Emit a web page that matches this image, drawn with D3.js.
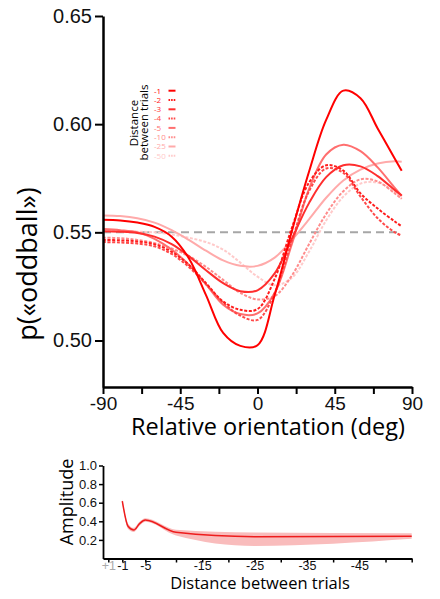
<!DOCTYPE html>
<html>
<head>
<meta charset="utf-8">
<script src="https://cdn.jsdelivr.net/npm/d3@7"></script>
<style>
    body { margin: 0; background: #fff; }
    svg { display: block; font-family: "Open Sans", sans-serif; }
    .axis path, .axis line { stroke: #000; }
</style>
</head>
<body>
<svg id="chart" width="440" height="599"></svg>
<script>
// orientations (deg) shared by every curve of the top panel
var orientations = [-90, -80, -70, -60, -50, -40, -30, -20, -10, 0, 10, 20, 30, 40, 50, 60, 70, 80, 84];

// p(oddball) per distance between trials
var lags = ["-1", "-2", "-3", "-4", "-5", "-10", "-25", "-50"];
var pOdd1  = [0.5558, 0.5555, 0.5545, 0.5525, 0.548, 0.538, 0.521, 0.5035, 0.4975, 0.4978, 0.521, 0.5505, 0.578, 0.602, 0.6155, 0.612, 0.598, 0.584, 0.5785];
var pOdd2  = [0.5465, 0.5463, 0.5458, 0.5445, 0.541, 0.535, 0.5265, 0.518, 0.5142, 0.5145, 0.5285, 0.552, 0.573, 0.581, 0.5785, 0.568, 0.561, 0.555, 0.5528];
var pOdd3  = [0.5505, 0.5503, 0.5497, 0.548, 0.5445, 0.539, 0.5325, 0.5265, 0.5228, 0.5232, 0.531, 0.547, 0.5635, 0.5755, 0.581, 0.5805, 0.576, 0.5695, 0.567];
var pOdd4  = [0.5455, 0.5453, 0.5448, 0.5435, 0.540, 0.534, 0.526, 0.5175, 0.5115, 0.5095, 0.522, 0.546, 0.569, 0.5795, 0.5775, 0.5665, 0.5565, 0.550, 0.5485];
var pOdd5  = [0.5515, 0.551, 0.550, 0.547, 0.542, 0.535, 0.526, 0.5165, 0.5122, 0.5125, 0.522, 0.5445, 0.570, 0.586, 0.5905, 0.5875, 0.580, 0.5705, 0.5668];
var pOdd10 = [0.5475, 0.5473, 0.5465, 0.545, 0.5425, 0.539, 0.534, 0.528, 0.522, 0.519, 0.5205, 0.530, 0.5445, 0.5585, 0.569, 0.5745, 0.5735, 0.568, 0.5655];
var pOdd25 = [0.5578, 0.5575, 0.5565, 0.5545, 0.551, 0.5465, 0.5415, 0.537, 0.5345, 0.5345, 0.5383, 0.5465, 0.556, 0.566, 0.574, 0.579, 0.5818, 0.5828, 0.5826];
var pOdd50 = [0.5505, 0.5505, 0.5503, 0.550, 0.549, 0.5475, 0.5455, 0.542, 0.536, 0.5295, 0.5255, 0.529, 0.541, 0.5555, 0.5665, 0.5725, 0.573, 0.5685, 0.5655];
var chance = 0.55;

// bottom panel: amplitude vs distance between trials
var distances = [-1, -2, -3, -4, -5, -10, -25, -55];
var amplitude = [0.618, 0.346, 0.306, 0.375, 0.413, 0.282, 0.235, 0.239];
var ampUpper  = [0.638, 0.375, 0.33, 0.395, 0.432, 0.31, 0.28, 0.272];
var ampLower  = [0.598, 0.318, 0.285, 0.352, 0.395, 0.248, 0.135, 0.212];

var yTicks = [0.50, 0.55, 0.60, 0.65];
var xTicks = [-90, -67.5, -45, -22.5, 0, 22.5, 45, 67.5, 90];
var ampTicks = [0.2, 0.4, 0.6, 0.8, 1.0];
var distTicks = [1, -1, -5, -10, -15, -20, -25, -30, -35, -40, -45, -50, -55];
var distLabels = {"1": "+1", "-1": "-1", "-5": "-5", "-15": "-15", "-25": "-25", "-35": "-35", "-45": "-45"};

var series = [pOdd1, pOdd2, pOdd3, pOdd4, pOdd5, pOdd10, pOdd25, pOdd50];
var colors = ["#ff0000", "#ff1c1c", "#ff2e2e", "#ff4848", "#ff6f6f", "#ff8c8c", "#ffaaaa", "#ffcaca"];
var dashed = [false, true, false, true, false, true, false, true];

var svg = d3.select("#chart");

// ---------- top panel ----------
var x = d3.scaleLinear().domain([-90, 90]).range([103, 412]);
var y = d3.scaleLinear().domain([0.4785, 0.65]).range([387, 16]);

var gTop = svg.append("g").attr("class", "g-top");

gTop.append("line")
    .attr("x1", x(-90)).attr("x2", x(84))
    .attr("y1", y(chance)).attr("y2", y(chance))
    .attr("stroke", "#a6a6a6")
    .attr("stroke-width", 2)
    .attr("stroke-dasharray", "8,5");

var line = d3.line()
    .x(function (d, i) { return x(orientations[i]); })
    .y(function (d) { return y(d); })
    .curve(d3.curveCatmullRom.alpha(0.5));

// draw the faint ones first so -1 stays on top
for (var i = series.length - 1; i >= 0; i--) {
    gTop.append("path")
        .datum(series[i])
        .attr("d", line)
        .attr("fill", "none")
        .attr("stroke", colors[i])
        .attr("stroke-width", 2)
        .attr("stroke-dasharray", dashed[i] ? "3,1.6" : null);
}

var xAxis = gTop.append("g")
    .attr("class", "axis")
    .attr("transform", "translate(0,387)")
    .call(d3.axisBottom(x).tickValues(xTicks).tickSize(7).tickSizeOuter(0)
        .tickFormat(function (d) { return d % 45 === 0 ? d : ""; }));
xAxis.select(".domain").attr("stroke-width", 2.5);
xAxis.selectAll(".tick line").attr("stroke-width", 2);
xAxis.selectAll("text").attr("font-size", "19px").attr("dy", "0.71em").attr("fill", "#111");

var yAxis = gTop.append("g")
    .attr("class", "axis")
    .attr("transform", "translate(103,0)")
    .call(d3.axisLeft(y).tickValues(yTicks).tickSize(8).tickSizeOuter(0).tickFormat(d3.format(".2f")));
yAxis.select(".domain").attr("stroke-width", 2.5);
yAxis.selectAll(".tick line").attr("stroke-width", 2);
yAxis.selectAll("text").attr("font-size", "20px").attr("x", -11).attr("fill", "#111");

gTop.append("text")
    .attr("transform", "translate(268,435)")
    .attr("text-anchor", "middle")
    .attr("font-size", "23.5px")
    .text("Relative orientation (deg)");

gTop.append("text")
    .attr("transform", "translate(37,264) rotate(-90)")
    .attr("text-anchor", "middle")
    .attr("font-size", "27px")
    .text("p(«oddball»)");

// legend
var gLegend = gTop.append("g").attr("class", "g-legend");
gLegend.append("text")
    .attr("transform", "translate(138,123) rotate(-90)")
    .attr("text-anchor", "middle")
    .attr("font-size", "11.5px")
    .text("Distance");
gLegend.append("text")
    .attr("transform", "translate(148,122.5) rotate(-90)")
    .attr("text-anchor", "middle")
    .attr("font-size", "11.5px")
    .text("between trials");

var legendRow = gLegend.selectAll("g.row")
    .data(lags)
    .enter().append("g")
    .attr("class", "row")
    .attr("transform", function (d, i) { return "translate(0," + (90.7 + i * 9.3) + ")"; });
legendRow.append("text")
    .attr("x", 154)
    .attr("y", 2.8)
    .attr("font-size", "8px")
    .attr("fill", function (d, i) { return colors[i]; })
    .text(function (d) { return d; });
legendRow.append("line")
    .attr("x1", 168.5).attr("x2", 175.5)
    .attr("stroke", function (d, i) { return colors[i]; })
    .attr("stroke-width", 2)
    .attr("stroke-dasharray", function (d, i) { return dashed[i] ? "1.6,1" : null; });

// ---------- bottom panel ----------
var xb = d3.scaleLinear().domain([2, 1, -1, -5, -10, -55]).range([103, 108.3, 122.3, 145.3, 176, 411.7]);
var yb = d3.scaleLinear().domain([0, 1]).range([558.5, 465.5]);

var gBottom = svg.append("g").attr("class", "g-bottom");

var band = d3.area()
    .x(function (d, i) { return xb(distances[i]); })
    .y0(function (d, i) { return yb(ampLower[i]); })
    .y1(function (d) { return yb(d); })
    .curve(d3.curveMonotoneX);
gBottom.append("path")
    .datum(ampUpper)
    .attr("d", band)
    .attr("fill", "#f9bcbc");

gBottom.append("path")
    .datum(amplitude)
    .attr("d", d3.line()
        .x(function (d, i) { return xb(distances[i]); })
        .y(function (d) { return yb(d); })
        .curve(d3.curveMonotoneX))
    .attr("fill", "none")
    .attr("stroke", "#ee1c1c")
    .attr("stroke-width", 1.5);

var xbAxis = gBottom.append("g")
    .attr("class", "axis")
    .attr("transform", "translate(0,558.5)")
    .call(d3.axisBottom(xb).tickValues(distTicks).tickSize(4).tickSizeOuter(0)
        .tickFormat(function (d) { return distLabels[String(d)] || ""; }));
xbAxis.select(".domain").attr("stroke-width", 1.8);
xbAxis.selectAll(".tick line").attr("stroke-width", 1.5);
xbAxis.selectAll("text").attr("font-size", "12.5px").attr("y", 3).attr("dy", "0.71em")
    .attr("fill", function (d) { return d > 0 ? "#aaa" : "#111"; });

var ybAxis = gBottom.append("g")
    .attr("class", "axis")
    .attr("transform", "translate(103,0)")
    .call(d3.axisLeft(yb).tickValues(ampTicks).tickSize(4).tickSizeOuter(0).tickFormat(d3.format(".1f")));
ybAxis.select(".domain").attr("stroke-width", 1.8);
ybAxis.selectAll(".tick line").attr("stroke-width", 1.5);
ybAxis.selectAll("text").attr("font-size", "13px").attr("x", -6).attr("fill", "#111");

gBottom.append("text")
    .attr("transform", "translate(260,589)")
    .attr("text-anchor", "middle")
    .attr("font-size", "16.5px")
    .text("Distance between trials");

gBottom.append("text")
    .attr("transform", "translate(73,502) rotate(-90)")
    .attr("text-anchor", "middle")
    .attr("font-size", "18px")
    .text("Amplitude");
</script>
</body>
</html>
